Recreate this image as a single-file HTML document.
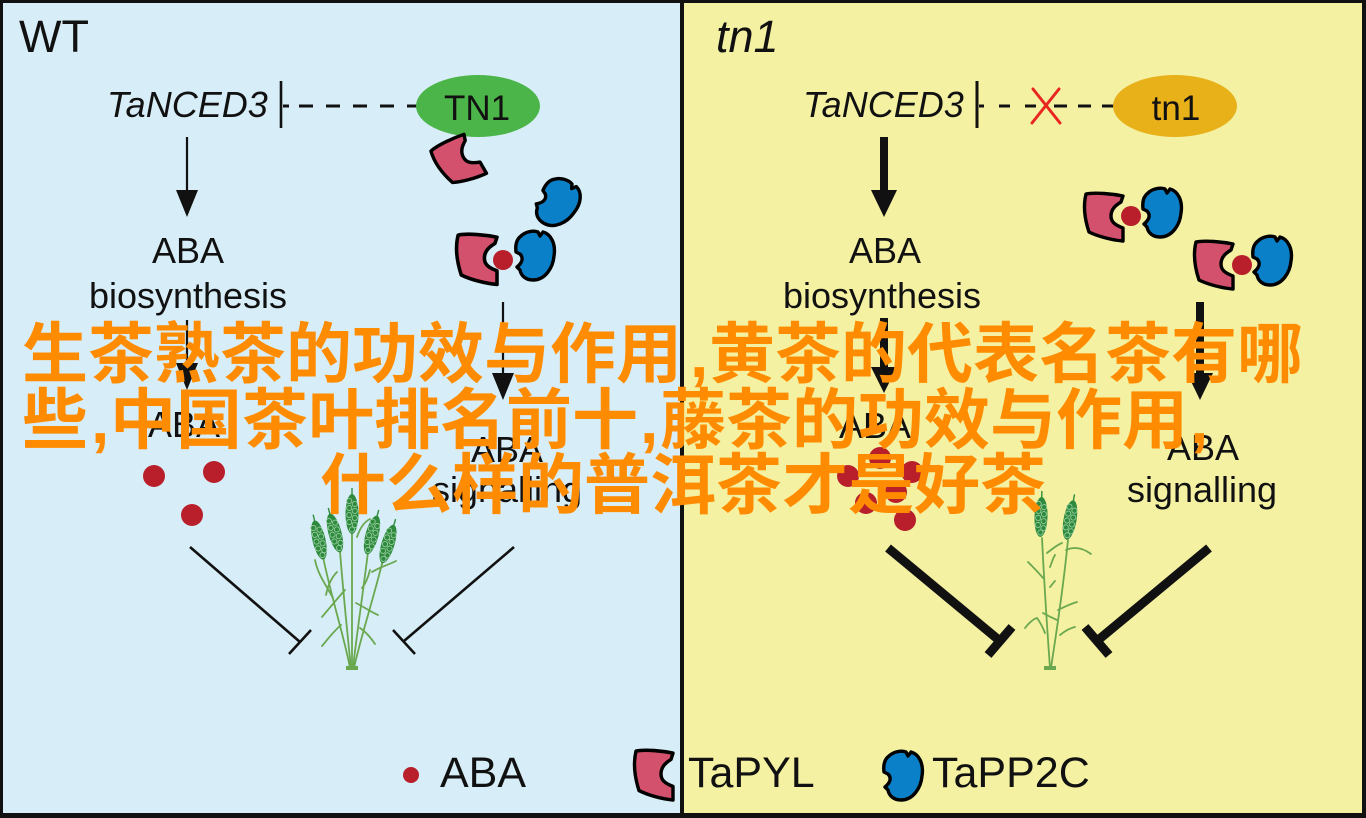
<!DOCTYPE html>
<html>
<head>
<meta charset="utf-8">
<style>
  html,body{margin:0;padding:0;background:#000;}
  body{width:1366px;height:818px;overflow:hidden;}
  svg{display:block;}
  .lbl{font-family:"Liberation Sans",Arial,sans-serif;fill:#111;}
  .cjk{font-family:"Liberation Sans","Noto Sans CJK SC","WenQuanYi Zen Hei",sans-serif;fill:#ff8c00;font-weight:700;font-size:66px;}
</style>
</head>
<body>
<svg width="1366" height="818" viewBox="0 0 1366 818" xmlns="http://www.w3.org/2000/svg">
  <defs>
    <path id="pyl" d="M3,2 C12,0 30,2 40,4 L38,10 C33,13 28,17 28,24 C28,30 32,33 40,36 L40,49 C28,48 14,44 6,40 C2,28 0,14 3,2 Z" fill="#d4516e" stroke="#000" stroke-width="3.4" stroke-linejoin="round"/>
    <path id="pp2c" d="M8,6 C12,2 20,0 25,2 L27,6 L30,2 C38,4 43,14 41,26 C40,38 32,50 20,50 C13,50 8,46 7,40 L4,37 C9,33 11,28 7,24 L3,22 C2,14 4,9 8,6 Z" fill="#0a80c9" stroke="#000" stroke-width="3.4" stroke-linejoin="round"/>
    <g id="ear">
      <line x1="0" y1="-19" x2="0" y2="-26" stroke="#2e8b3e" stroke-width="1.4"/>
      <ellipse cx="0" cy="0" rx="6.5" ry="20" fill="#2e8b3e"/>
      <g fill="#2e8b3e" stroke="#9fd0a6" stroke-width="0.8">
        <circle cx="-2.8" cy="-13" r="2.6"/><circle cx="2.8" cy="-10" r="2.6"/>
        <circle cx="-2.8" cy="-6" r="2.6"/><circle cx="2.8" cy="-3" r="2.6"/>
        <circle cx="-2.8" cy="1" r="2.6"/><circle cx="2.8" cy="4" r="2.6"/>
        <circle cx="-2.8" cy="8" r="2.6"/><circle cx="2.8" cy="11" r="2.6"/>
        <circle cx="0" cy="15.5" r="2.6"/>
      </g>
    </g>
  </defs>

  <!-- frame & panels -->
  <rect x="0" y="0" width="1366" height="818" fill="#111"/>
  <rect x="3" y="3" width="677" height="810" fill="#d7edf7"/>
  <rect x="684" y="3" width="678" height="810" fill="#f4f1a2"/>

  <!-- ===== LEFT PANEL (WT) ===== -->
  <text class="lbl" x="19" y="52" font-size="45">WT</text>
  <text class="lbl" x="107" y="117" font-size="36" font-style="italic">TaNCED3</text>
  <line x1="281" y1="81" x2="281" y2="128" stroke="#111" stroke-width="2.6"/>
  <line x1="283" y1="106" x2="420" y2="106" stroke="#111" stroke-width="3" stroke-dasharray="6 10 14 13 14 13 14 13 14 13 14 13"/>
  <ellipse cx="478" cy="106" rx="62" ry="31" fill="#4cb549"/>
  <text class="lbl" x="477" y="120" font-size="35" text-anchor="middle">TN1</text>

  <!-- arrow TaNCED3 -> ABA biosynthesis -->
  <line x1="187" y1="137" x2="187" y2="195" stroke="#111" stroke-width="2.2"/>
  <polygon points="176,190 198,190 187,217" fill="#111"/>
  <text class="lbl" x="188" y="263" font-size="36" text-anchor="middle">ABA</text>
  <text class="lbl" x="188" y="308" font-size="36" text-anchor="middle">biosynthesis</text>
  <line x1="187" y1="320" x2="187" y2="368" stroke="#111" stroke-width="2.2"/>
  <polygon points="176,363 198,363 187,390" fill="#111"/>
  <text class="lbl" x="184" y="437" font-size="36" text-anchor="middle">ABA</text>
  <circle cx="154" cy="476" r="11" fill="#b81f2a"/>
  <circle cx="214" cy="472" r="11" fill="#b81f2a"/>
  <circle cx="192" cy="515" r="11" fill="#b81f2a"/>

  <!-- proteins left -->
  <g transform="translate(458,162) rotate(-30) translate(-21,-25)"><use href="#pyl"/></g>
  <g transform="translate(557,202) rotate(30) translate(-21,-25)"><use href="#pp2c"/></g>
  <use href="#pyl" transform="translate(455,233) scale(1.05)"/>
  <circle cx="503" cy="260" r="10" fill="#b81f2a"/>
  <use href="#pp2c" transform="translate(513,230)"/>
  <line x1="503" y1="302" x2="503" y2="378" stroke="#111" stroke-width="2.2"/>
  <polygon points="492,373 514,373 503,400" fill="#111"/>
  <text class="lbl" x="507" y="462" font-size="36" text-anchor="middle">ABA</text>
  <text class="lbl" x="507" y="502" font-size="36" text-anchor="middle">signalling</text>

  <!-- inhibition lines left -->
  <g stroke="#111" stroke-width="2.6" stroke-linecap="butt">
    <line x1="190" y1="547" x2="300" y2="642"/>
    <line x1="289" y1="654" x2="311" y2="630"/>
    <line x1="514" y1="547" x2="404" y2="641"/>
    <line x1="393" y1="630" x2="415" y2="654"/>
  </g>

  <!-- wheat left -->
  <g fill="none" stroke="#6aa84f" stroke-width="1.8" stroke-linecap="round">
    <path d="M352,533 C352,580 352,630 352,668"/>
    <path d="M340,552 C344,600 348,640 351,668"/>
    <path d="M323,557 C332,600 345,640 350,668"/>
    <path d="M368,552 C362,600 356,640 353,668"/>
    <path d="M383,560 C373,600 360,640 354,668"/>
    <path d="M315,560 C318,575 326,585 333,598"/>
    <path d="M337,572 C331,578 328,585 326,595"/>
    <path d="M357,537 C360,528 364,522 370,519"/>
    <path d="M345,590 C336,600 328,610 322,617"/>
    <path d="M356,603 C364,607 371,612 378,615"/>
    <path d="M341,625 C333,632 327,640 322,646"/>
    <path d="M360,628 C366,632 371,638 375,644"/>
    <path d="M372,572 C380,567 388,565 396,561"/>
    <path d="M362,588 C366,583 368,578 370,570"/>
  </g>
  <use href="#ear" transform="translate(352,514)"/>
  <use href="#ear" transform="translate(335,533) rotate(-15)"/>
  <use href="#ear" transform="translate(319,540) rotate(-13)"/>
  <use href="#ear" transform="translate(372,535) rotate(15)"/>
  <use href="#ear" transform="translate(388,544) rotate(17)"/>
  <rect x="346" y="666" width="12" height="4" fill="#6aa84f"/>

  <!-- ===== RIGHT PANEL (tn1) ===== -->
  <text class="lbl" x="716" y="52" font-size="45" font-style="italic">tn1</text>
  <text class="lbl" x="803" y="117" font-size="36" font-style="italic">TaNCED3</text>
  <line x1="977" y1="81" x2="977" y2="128" stroke="#111" stroke-width="3"/>
  <line x1="979" y1="106" x2="1115" y2="106" stroke="#111" stroke-width="3" stroke-dasharray="5 15 11 15 11 18 13 11 13 11 12 0"/>
  <g stroke="#e8261f" stroke-width="3" stroke-linecap="round">
    <line x1="1033" y1="89" x2="1060" y2="123"/>
    <line x1="1059" y1="89" x2="1032" y2="123"/>
  </g>
  <ellipse cx="1175" cy="106" rx="62" ry="31" fill="#e8b11a"/>
  <text class="lbl" x="1176" y="120" font-size="35" text-anchor="middle">tn1</text>

  <line x1="884" y1="137" x2="884" y2="195" stroke="#111" stroke-width="8"/>
  <polygon points="871,190 897,190 884,217" fill="#111"/>
  <text class="lbl" x="885" y="263" font-size="36" text-anchor="middle">ABA</text>
  <text class="lbl" x="882" y="308" font-size="36" text-anchor="middle">biosynthesis</text>
  <line x1="884" y1="318" x2="884" y2="372" stroke="#111" stroke-width="8"/>
  <polygon points="871,367 897,367 884,393" fill="#111"/>
  <text class="lbl" x="875" y="438" font-size="36" text-anchor="middle">ABA</text>
  <g fill="#b81f2a">
    <circle cx="880" cy="458" r="11"/>
    <circle cx="848" cy="476" r="11"/>
    <circle cx="912" cy="472" r="11"/>
    <circle cx="866" cy="503" r="11"/>
    <circle cx="896" cy="492" r="11"/>
    <circle cx="905" cy="520" r="11"/>
  </g>

  <!-- complexes right -->
  <use href="#pyl" transform="translate(1083,192)"/>
  <circle cx="1131" cy="216" r="10" fill="#b81f2a"/>
  <use href="#pp2c" transform="translate(1140,187)"/>
  <use href="#pyl" transform="translate(1193,240)"/>
  <circle cx="1242" cy="265" r="10" fill="#b81f2a"/>
  <use href="#pp2c" transform="translate(1250,235)"/>
  <line x1="1200" y1="302" x2="1200" y2="378" stroke="#111" stroke-width="8"/>
  <polygon points="1187,373 1213,373 1200,400" fill="#111"/>
  <text class="lbl" x="1203" y="460" font-size="36" text-anchor="middle">ABA</text>
  <text class="lbl" x="1202" y="502" font-size="36" text-anchor="middle">signalling</text>

  <!-- thick inhibition lines right -->
  <g stroke="#111" stroke-width="9" stroke-linecap="butt">
    <line x1="888" y1="548" x2="1000" y2="641"/>
    <line x1="988" y1="655" x2="1012" y2="627"/>
    <line x1="1209" y1="548" x2="1097" y2="641"/>
    <line x1="1085" y1="627" x2="1109" y2="655"/>
  </g>

  <!-- wheat right -->
  <g fill="none" stroke="#6aa84f" stroke-width="1.8" stroke-linecap="round">
    <path d="M1042,538 C1045,600 1048,640 1050,668"/>
    <path d="M1068,540 C1062,600 1055,640 1051,668"/>
    <path d="M1028,562 C1034,568 1039,573 1043,578"/>
    <path d="M1047,553 C1052,549 1057,545 1062,543"/>
    <path d="M1050,567 C1052,562 1053,558 1055,555"/>
    <path d="M1066,550 C1075,546 1083,548 1091,554"/>
    <path d="M1050,587 C1052,585 1053,583 1055,581"/>
    <path d="M1058,610 C1064,607 1070,604 1077,602"/>
    <path d="M1043,613 C1048,616 1053,618 1057,620"/>
    <path d="M1025,628 C1029,623 1033,619 1037,618 C1040,622 1043,628 1045,633"/>
    <path d="M1060,635 C1065,631 1070,628 1075,627"/>
  </g>
  <use href="#ear" transform="translate(1041,517) rotate(2)"/>
  <use href="#ear" transform="translate(1070,520) rotate(10)"/>
  <rect x="1044" y="666" width="12" height="4" fill="#6aa84f"/>

  <!-- ===== LEGEND ===== -->
  <circle cx="411" cy="775" r="8" fill="#b81f2a"/>
  <text class="lbl" x="440" y="787" font-size="43">ABA</text>
  <use href="#pyl" transform="translate(633,749) scale(1,1.04)"/>
  <text class="lbl" x="688" y="787" font-size="43">TaPYL</text>
  <use href="#pp2c" transform="translate(881,750)"/>
  <text class="lbl" x="932" y="787" font-size="43">TaPP2C</text>

  <!-- ===== ORANGE OVERLAY TEXT ===== -->
  <text class="cjk" y="377"><tspan x="22">生茶熟茶的功效与作用</tspan><tspan x="690">,</tspan><tspan x="709">黄茶的代表名茶有哪</tspan></text>
  <text class="cjk" y="443"><tspan x="22">些</tspan><tspan x="91">,</tspan><tspan x="110">中国茶叶排名前十</tspan><tspan x="640">,</tspan><tspan x="660">藤茶的功效与作用</tspan><tspan x="1190">,</tspan></text>
  <text class="cjk" y="508"><tspan x="320">什么样的普洱茶才是好茶</tspan></text>
</svg>
</body>
</html>
